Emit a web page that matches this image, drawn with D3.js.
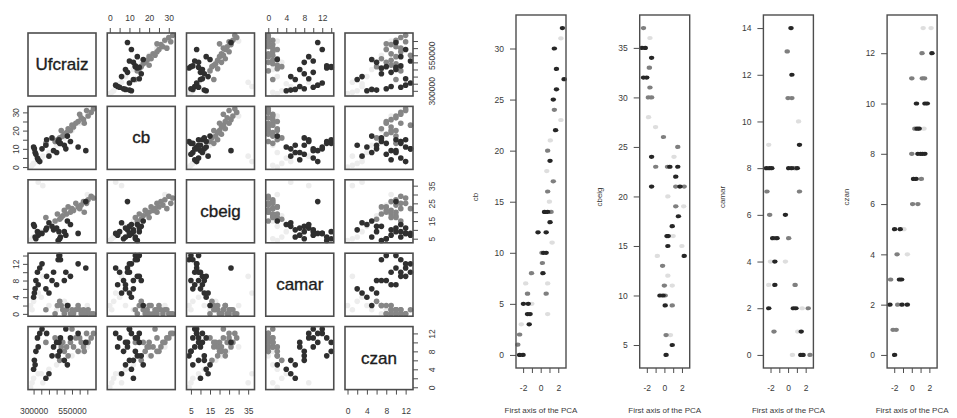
<!DOCTYPE html>
<html>
<head>
<meta charset="utf-8">
<script src="https://cdn.jsdelivr.net/npm/d3@7"></script>
<style>
    body { margin: 0; background: #fff; }
    svg { font-family: 'Liberation Sans', Arial, sans-serif; }
</style>
</head>
<body>
<svg class="chart" width="957" height="418"></svg>
<script>
// ---- data: pairs matrix (one entry per observation) ----
const varNames = ['Ufcraiz', 'cb', 'cbeig', 'camar', 'czan'];

const ufcraiz = [380000, 300000, 305000, 310000, 315000, 330000, 340000, 325000, 460000, 470000,
    640000, 590000, 510000, 475000, 465000, 430000, 385000, 420000, 500000, 450000, 540000, 400000,
    520000, 355000,
    690000, 675000, 655000, 645000, 625000, 610000, 590000, 575000, 560000, 550000, 540000, 525000,
    515000, 500000, 490000, 480000, 470000, 455000, 440000, 380000, 600000, 630000,
    280000, 290000, 300000, 350000, 400000, 450000, 500000, 550000, 600000, 650000, 360000, 330000];
const cb = [12, 11, 10, 8, 7, 4, 3, 5, 14, 13, 9, 11, 10, 13, 15, 9, 15, 16, 12, 8, 14, 6, 17, 10,
    32, 30, 28, 31, 26, 27, 25, 24, 22, 23, 20, 21, 19, 18, 17, 20, 16, 15, 14, 13, 29, 24,
    0, 1, 2, 5, 8, 12, 16, 20, 24, 28, 6, 3];
const cbeig = [10, 13, 12, 6, 5, 7, 8, 9, 4, 5, 26, 8, 7, 6, 9, 10, 11, 12, 9, 11, 13, 14, 15, 8,
    28, 29, 27, 25, 26, 24, 23, 25, 21, 22, 20, 23, 19, 21, 18, 17, 16, 19, 15, 17, 22, 20,
    4, 5, 6, 9, 12, 15, 18, 21, 24, 30, 35, 37];
const camar = [6, 4, 5, 6, 8, 7, 11, 10, 13, 14, 11, 12, 10, 13, 14, 10, 9, 8, 8, 7, 9, 5, 2, 12,
    0, 0, 1, 0, 1, 0, 2, 1, 0, 1, 0, 2, 1, 0, 1, 2, 3, 2, 0, 1, 1, 0,
    2, 1, 3, 4, 2, 1, 3, 0, 1, 2, 9, 5];
const czan = [2, 4, 6, 5, 8, 9, 12, 11, 7, 8, 10, 12, 13, 11, 10, 9, 12, 7, 6, 10, 11, 3, 5, 13,
    12, 11, 10, 12, 9, 10, 8, 11, 9, 13, 10, 7, 9, 8, 10, 9, 6, 7, 11, 10, 11, 8,
    0, 1, 2, 3, 4, 5, 6, 7, 8, 9, 1, 3];
// 0 = dark, 1 = grey, 2 = faint
const group = [0, 0, 0, 0, 0, 0, 0, 0, 0, 0, 0, 0, 0, 0, 0, 0, 0, 0, 0, 0, 0, 0, 0, 0,
    1, 1, 1, 1, 1, 1, 1, 1, 1, 1, 1, 1, 1, 1, 1, 1, 1, 1, 1, 1, 1, 1,
    2, 2, 2, 2, 2, 2, 2, 2, 2, 2, 2, 2];

const varTicks = [
    [300000, 350000, 400000, 450000, 500000, 550000, 600000, 650000],
    [0, 5, 10, 15, 20, 25, 30],
    [5, 10, 15, 20, 25, 30, 35],
    [0, 2, 4, 6, 8, 10, 12, 14],
    [0, 2, 4, 6, 8, 10, 12]
];
const pairLabels = [[300000, 550000], [0, 10, 20, 30], [5, 15, 25, 35], [0, 4, 8, 12], [0, 4, 8, 12]];

// ---- data: variables against the first PCA axis, [pca, value, shade] ----
const pcaCb = [[2.48, 32, 0], [2.3, 31, 2], [1.56, 30, 0], [1.8, 28, 0], [2.67, 27, 0], [1.8, 26, 0],
    [1.44, 25, 0], [1.56, 24, 1], [2.3, 23, 2], [1.7, 22, 0], [1.1, 21, 2], [0.8, 20, 1], [1.07, 19, 0],
    [0.7, 18, 2], [1.44, 17, 1], [0.8, 16, 1], [1.0, 15, 2], [0.44, 14, 0], [0.8, 14, 0], [1.19, 14, 1],
    [1.07, 13, 0], [-0.3, 12, 0], [0.63, 12, 0], [1.3, 11, 2], [0.33, 10, 0], [0.63, 10, 0], [0.15, 10, 1],
    [0.2, 9, 1], [-1.04, 8, 1], [0.26, 8, 0], [0.8, 7, 2], [-1.7, 7, 2], [0.63, 6, 1], [-1.5, 6, 1],
    [-1.96, 5, 0], [-1.41, 5, 0], [-1.0, 5, 2], [-1.5, 4, 0], [-1.2, 4, 0], [0.8, 4, 2], [-1.3, 3, 0],
    [-2.2, 3, 2], [-2.4, 2, 1], [-2.6, 1, 1], [-2.4, 0, 0], [-2.0, 0, 0]];
const pcaCbeig = [[-2.37, 37, 1], [-1.64, 36, 2], [-2.55, 35, 0], [-2.18, 35, 0], [-1.45, 34, 0],
    [-1.71, 33, 1], [-2.37, 32, 0], [-2.0, 32, 0], [-1.64, 31, 1], [-1.82, 30, 1], [-1.45, 30, 1],
    [-1.8, 28, 2], [-1.0, 27, 2], [-0.1, 26, 1], [1.53, 25, 1], [-1.45, 24, 0], [1.1, 24, 2],
    [-0.98, 23, 1], [0.62, 23, 0], [0.36, 23, 1], [1.53, 23, 0], [1.3, 22, 0], [-1.45, 21, 0],
    [1.3, 21, 1], [1.78, 21, 0], [2.26, 21, 1], [0.4, 20, 2], [1.3, 19, 1], [2.2, 19, 2], [1.6, 18, 0],
    [0.9, 17, 0], [0.45, 16, 0], [0.3, 16, 0], [1.0, 16, 2], [0.4, 15, 0], [2.0, 15, 2], [2.26, 14, 0],
    [-0.8, 14, 2], [-0.2, 13, 1], [0.4, 12, 2], [0.0, 11, 1], [0.9, 11, 2], [-0.5, 10, 0],
    [-0.15, 10, 0], [0.1, 10, 1], [0.1, 9, 0], [0.9, 9, 1], [0.7, 6, 2], [0.2, 6, 1], [0.9, 5, 0],
    [0.2, 4, 0]];
const pcaCamar = [[0.33, 14, 0], [-0.1, 13, 1], [0.44, 12, 0], [0.0, 11, 1], [0.44, 11, 1], [1.2, 10, 2],
    [-2.2, 9, 2], [1.3, 9, 0], [-2.47, 8, 0], [-2.11, 8, 0], [-1.85, 8, 0], [0.07, 8, 0], [0.44, 8, 0],
    [0.8, 8, 1], [1.05, 8, 0], [-2.4, 7, 1], [1.3, 7, 1], [-2.1, 6, 1], [-0.3, 6, 0], [-1.75, 5, 0],
    [-1.5, 5, 1], [-1.25, 5, 0], [0.07, 5, 1], [-1.5, 4, 0], [-2.0, 4, 2], [-0.3, 4, 2], [-1.5, 3, 0],
    [-2.2, 3, 2], [0.8, 3, 1], [-2.2, 2, 0], [0.6, 2, 0], [0.9, 2, 0], [2.3, 2, 1], [1.6, 2, 2],
    [-1.6, 1, 1], [1.5, 1, 0], [1.1, 1, 2], [1.45, 0, 0], [1.7, 0, 0], [2.5, 0, 1], [0.5, 0, 2]];
const pcaCzan = [[1.3, 13, 2], [2.2, 13, 2], [1.17, 12, 1], [2.3, 12, 0], [0.0, 11, 1], [1.2, 11, 1],
    [1.45, 11, 1], [0.53, 10, 0], [1.5, 10, 0], [1.77, 10, 0], [0.35, 9, 1], [0.6, 9, 0], [0.85, 9, 0],
    [1.4, 9, 2], [0.0, 8, 1], [0.7, 8, 0], [1.0, 8, 0], [1.25, 8, 0], [1.5, 8, 0], [0.2, 7, 0],
    [0.5, 7, 0], [1.1, 7, 1], [0.1, 6, 1], [0.7, 6, 1], [-1.95, 5, 0], [-1.31, 5, 0], [-0.9, 5, 2],
    [-1.67, 4, 1], [-0.5, 4, 2], [-2.41, 3, 1], [-1.4, 3, 0], [-1.15, 3, 0], [-2.48, 2, 0],
    [-1.6, 2, 1], [-1.1, 2, 0], [-0.5, 2, 0], [-2.13, 1, 1], [-1.77, 1, 1], [-1.95, 0, 0]];

const pcaTicks = [-2, -1, 0, 1, 2];
const pcaLabels = [-2, 0, 2];
const pcaTitle = 'First axis of the PCA';

// ---- style ----
const pairShades = ['#2f2f2f', '#868686', '#ededed'];
const sideShades = ['#262626', '#7f7f7f', '#dedede'];
const boxColor = '#4d4d4d';
const textColor = '#3a3a3a';

const svg = d3.select('svg.chart');
const columns = [ufcraiz, cb, cbeig, camar, czan];

// R style: data range extended by 4% on both sides
const padRange = ([a, b]) => {
    const m = (b - a) * 0.04;
    return [a - m, b + m];
};
const translate = (x, y) => `translate(${x}, ${y})`;

const styleAxis = (g, size) => {
    g.select('.domain').remove();
    g.selectAll('.tick line').attr('stroke', boxColor).attr('stroke-width', 1);
    g.selectAll('.tick text').attr('fill', textColor).attr('font-size', size);
};

// ---- pairs matrix ----
const cell = { x0: 28, y0: 33, w: 68, h: 63, dx: 79.25, dy: 73.4 };
const xScales = columns.map(c => d3.scaleLinear().domain(padRange(d3.extent(c))).range([0, cell.w]));
const yScales = columns.map(c => d3.scaleLinear().domain(padRange(d3.extent(c))).range([cell.h, 0]));

// faint points go underneath the others
const order = d3.range(ufcraiz.length).sort((a, b) => d3.descending(group[a], group[b]) || a - b);

const labelFormat = i => d => (pairLabels[i].includes(d) ? String(d) : '');

for (let row = 0; row < 5; row++) {
    for (let col = 0; col < 5; col++) {
        const g = svg.append('g')
            .attr('transform', translate(cell.x0 + col * cell.dx, cell.y0 + row * cell.dy));

        if (row === col) {
            g.append('text')
                .attr('x', cell.w / 2)
                .attr('y', cell.h / 2)
                .attr('text-anchor', 'middle')
                .attr('dominant-baseline', 'central')
                .attr('font-size', 17)
                .attr('fill', '#1c1c1c')
                .attr('stroke', '#1c1c1c')
                .attr('stroke-width', 0.35)
                .text(varNames[row]);
        } else {
            g.selectAll('circle')
                .data(order)
                .enter()
                .append('circle')
                .attr('cx', d => xScales[col](columns[col][d]))
                .attr('cy', d => yScales[row](columns[row][d]))
                .attr('r', 2.8)
                .attr('fill', d => pairShades[group[d]]);
        }

        g.append('rect')
            .attr('width', cell.w)
            .attr('height', cell.h)
            .attr('fill', 'none')
            .attr('stroke', boxColor)
            .attr('stroke-width', 1.6);

        // axes alternate round the matrix as in R's pairs()
        if (row === 0 && col % 2 === 1) {
            g.append('g')
                .call(d3.axisTop(xScales[col]).tickValues(varTicks[col]).tickSize(5)
                    .tickPadding(7).tickFormat(labelFormat(col)))
                .call(a => styleAxis(a, 8.5));
        }
        if (row === 4 && col % 2 === 0) {
            g.append('g')
                .attr('transform', translate(0, cell.h))
                .call(d3.axisBottom(xScales[col]).tickValues(varTicks[col]).tickSize(5)
                    .tickPadding(13).tickFormat(labelFormat(col)))
                .call(a => styleAxis(a, 8.5));
        }
        if (col === 0 && row % 2 === 1) {
            g.append('g')
                .call(d3.axisLeft(yScales[row]).tickValues(varTicks[row]).tickSize(5)
                    .tickFormat(labelFormat(row)))
                .call(a => styleAxis(a, 8.5))
                .selectAll('.tick text')
                .attr('x', 0)
                .attr('dy', 0)
                .attr('text-anchor', 'middle')
                .attr('transform', 'translate(-9, 0) rotate(-90)');
        }
        if (col === 4 && row % 2 === 0) {
            g.append('g')
                .attr('transform', translate(cell.w, 0))
                .call(d3.axisRight(yScales[row]).tickValues(varTicks[row]).tickSize(5)
                    .tickFormat(labelFormat(row)))
                .call(a => styleAxis(a, 8.5))
                .selectAll('.tick text')
                .attr('x', 0)
                .attr('dy', 0)
                .attr('text-anchor', 'middle')
                .attr('transform', 'translate(22, 0) rotate(-90)');
        }
    }
}

// ---- variables against the first axis of the PCA ----
const panels = [
    { name: 'cb', pts: pcaCb, v: 1 },
    { name: 'cbeig', pts: pcaCbeig, v: 2 },
    { name: 'camar', pts: pcaCamar, v: 3 },
    { name: 'czan', pts: pcaCzan, v: 4 }
];
const side = { x0: 516, dx: 123.7, w: 50, y0: 15, h: 353 };
const allPca = panels.flatMap(p => p.pts.map(d => d[0]));
const pcaScale = d3.scaleLinear().domain(padRange(d3.extent(allPca))).range([0, side.w]);

panels.forEach((p, i) => {
    const g = svg.append('g').attr('transform', translate(side.x0 + i * side.dx, side.y0));
    const y = d3.scaleLinear().domain(yScales[p.v].domain()).range([side.h, 0]);

    const pts = p.pts.slice().sort((a, b) => b[2] - a[2]);
    g.selectAll('ellipse')
        .data(pts)
        .enter()
        .append('ellipse')
        .attr('cx', d => pcaScale(d[0]))
        .attr('cy', d => y(d[1]))
        .attr('rx', 2.7)
        .attr('ry', 2.1)
        .attr('fill', d => sideShades[d[2]]);

    g.append('rect')
        .attr('width', side.w)
        .attr('height', side.h)
        .attr('fill', 'none')
        .attr('stroke', boxColor)
        .attr('stroke-width', 1.4);

    g.append('g')
        .call(d3.axisLeft(y).tickValues(varTicks[p.v]).tickSize(6).tickPadding(6)
            .tickFormat(d => String(d)))
        .call(a => styleAxis(a, 8.5));

    g.append('g')
        .attr('transform', translate(0, side.h))
        .call(d3.axisBottom(pcaScale).tickValues(pcaTicks).tickSize(5).tickPadding(12)
            .tickFormat(d => (pcaLabels.includes(d) ? String(d) : '')))
        .call(a => styleAxis(a, 8.5));

    g.append('text')
        .attr('x', side.w / 2)
        .attr('y', 398)
        .attr('text-anchor', 'middle')
        .attr('font-size', 8)
        .attr('fill', textColor)
        .text(pcaTitle);

    g.append('text')
        .attr('transform', translate(-38, 182) + ' rotate(-90)')
        .attr('text-anchor', 'middle')
        .attr('font-size', 8)
        .attr('fill', textColor)
        .text(p.name);
});
</script>
</body>
</html>
